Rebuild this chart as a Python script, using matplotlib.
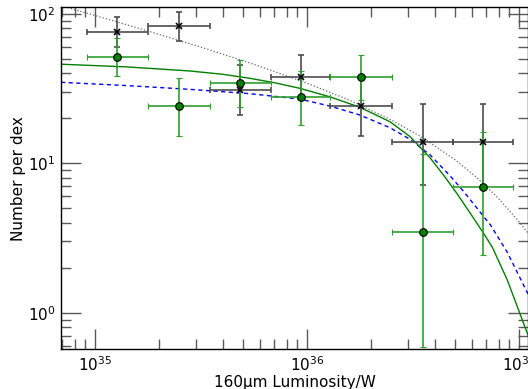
import numpy as np
import matplotlib
matplotlib.use('Agg')
import matplotlib.pyplot as plt

# luminosity bins (log10 W): centres and edges
bin_centre = [35.105, 35.395, 35.685, 35.970, 36.255, 36.545, 36.830]
bin_low = [34.960, 35.250, 35.540, 35.830, 36.110, 36.400, 36.690]
bin_high = [35.250, 35.540, 35.830, 36.110, 36.400, 36.690, 36.970]

# black sample (number per dex) with lower / upper limits
black_y = [75.9, 82.8, 31.0, 37.9, 24.1, 13.8, 13.8]
black_lo = [59.8, 65.9, 20.9, 26.7, 15.2, 7.2, 7.2]
black_hi = [95.8, 103.3, 45.2, 53.2, 37.2, 24.8, 24.8]

# green sample
green_y = [51.7, 24.1, 34.5, 27.6, 37.9, 3.45, 6.9]
green_lo = [38.5, 15.2, 23.8, 18.1, 26.7, 0.59, 2.45]
green_hi = [68.9, 37.2, 49.2, 41.2, 53.2, 11.5, 16.1]

# fitted curves (log10 L, log10 N)
dot_logx = [34.84, 35.0, 35.25, 35.5, 35.75, 36.0, 36.2, 36.4, 36.55, 36.7, 36.8, 36.9, 37.0, 37.05]
dot_logy = [2.055, 1.989, 1.885, 1.777, 1.662, 1.536, 1.422, 1.288, 1.167, 1.021, 0.905, 0.769, 0.609, 0.518]

dash_logx = [34.839, 35.15, 35.445, 35.729, 35.965, 36.107, 36.249, 36.391, 36.486, 36.581, 36.675, 36.738, 36.801, 36.865, 36.944, 37.042]
dash_logy = [1.542, 1.520, 1.495, 1.466, 1.430, 1.383, 1.323, 1.238, 1.160, 1.055, 0.915, 0.812, 0.700, 0.587, 0.405, 0.125]

solid_logx = [34.839, 35.15, 35.445, 35.6, 35.729, 35.85, 35.965, 36.107, 36.249, 36.391, 36.486, 36.581, 36.644, 36.707, 36.770, 36.833, 36.873, 36.944, 37.042]
solid_logy = [1.663, 1.645, 1.618, 1.596, 1.569, 1.538, 1.502, 1.445, 1.375, 1.278, 1.178, 1.035, 0.920, 0.797, 0.665, 0.530, 0.440, 0.220, -0.150]

x = 10 ** np.array(bin_centre)
xerr = [x - 10 ** np.array(bin_low), 10 ** np.array(bin_high) - x]
by = np.array(black_y)
gy = np.array(green_y)
berr = [by - np.array(black_lo), np.array(black_hi) - by]
gerr = [gy - np.array(green_lo), np.array(green_hi) - gy]

fig = plt.figure(figsize=(5.28, 3.89), dpi=100)
ax = fig.add_axes([61 / 528., 1 - 349.3 / 389., (528 - 61) / 528., (349.3 - 7) / 389.])

ax.plot(10 ** np.array(dot_logx), 10 ** np.array(dot_logy), ':', color='0.4', lw=0.9)
ax.plot(10 ** np.array(dash_logx), 10 ** np.array(dash_logy), '--', color='blue', lw=1.0, dashes=(3, 2.5))
ax.plot(10 ** np.array(solid_logx), 10 ** np.array(solid_logy), '-', color='green', lw=1.0)

ax.errorbar(x, by, xerr=xerr, yerr=berr, fmt='x', color='black', ecolor='0.3',
            elinewidth=1.2, capsize=2, capthick=1, markersize=5, mew=1.2)
ax.errorbar(x, gy, xerr=xerr, yerr=gerr, fmt='o', color='green', ecolor='#2f9e2f',
            elinewidth=1.2, capsize=2, capthick=1, markersize=5.5, mec='black', mew=0.8)

ax.set_xscale('log')
ax.set_yscale('log')
ax.set_xlim(10 ** 34.839, 10 ** 37.042)
ax.set_ylim(10 ** -0.245, 10 ** 2.046)

ax.tick_params(which='both', direction='in', top=True, right=True, color='0.35', width=1.0,
               labelsize=11, pad=4)
ax.tick_params(which='major', length=14.5)
ax.tick_params(which='minor', length=7.2)
for s in ax.spines.values():
    s.set_linewidth(1.0)

ax.set_xlabel('160\u03bcm Luminosity/W', fontsize=11, labelpad=1)
ax.set_ylabel('Number per dex', fontsize=11, labelpad=1)

fig.savefig('out.png', dpi=100)
